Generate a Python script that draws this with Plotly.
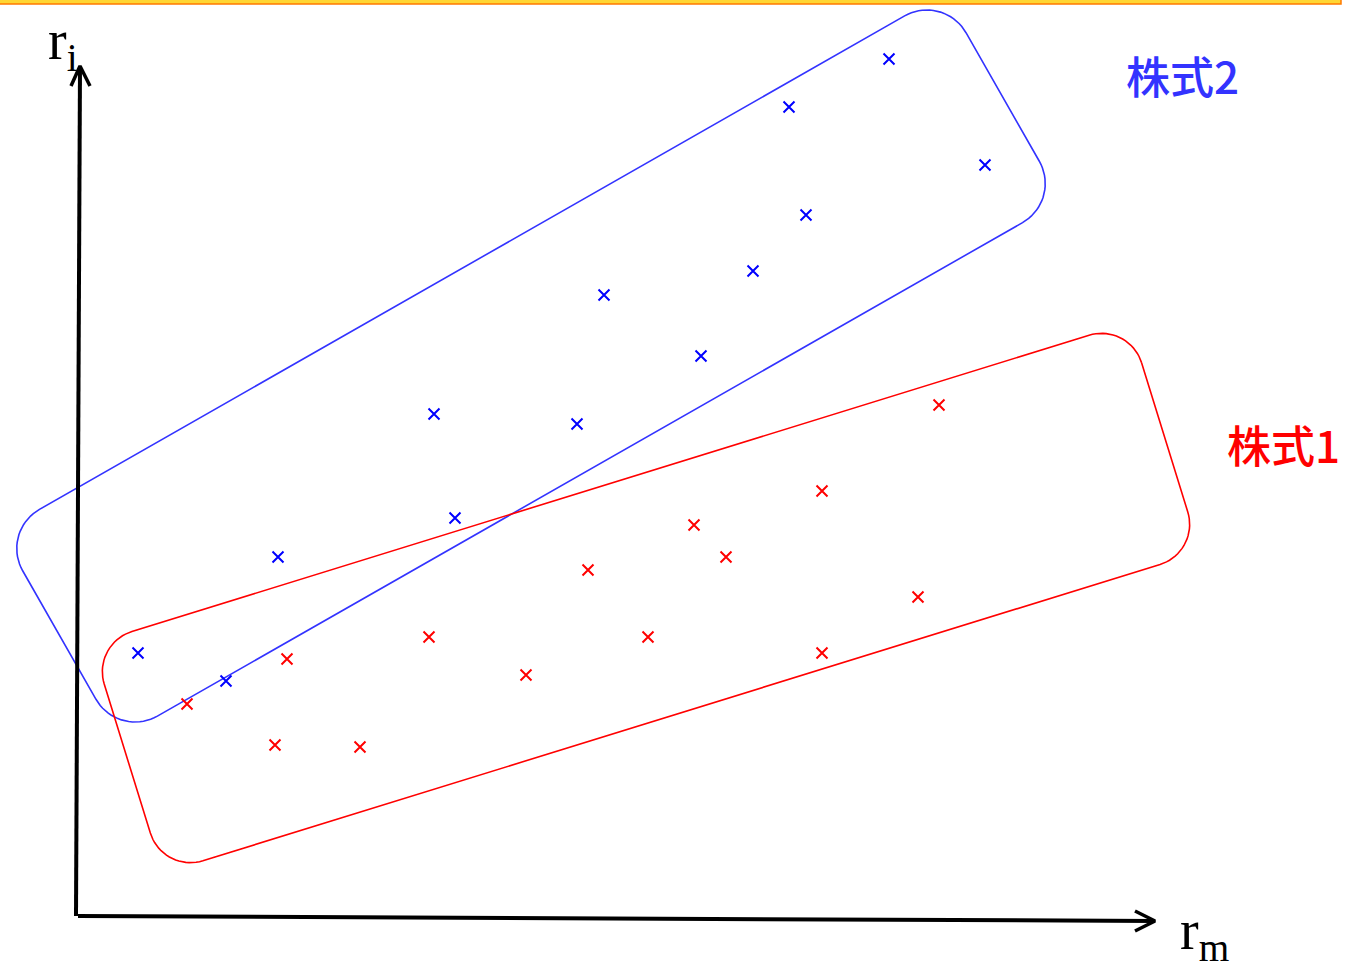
import numpy as np
import plotly.graph_objects as go

# stock 2 (blue) returns: market return rm vs stock return ri
stock2_rm = [811, 711, 907, 728, 675, 526, 623, 356, 499, 377, 200, 60, 148]
stock2_ri = [857, 809, 751, 701, 645, 621, 560, 502, 492, 398, 359, 263, 235]

# stock 1 (red)
stock1_rm = [861, 744, 616, 648, 510, 840, 351, 570, 209, 744, 448, 109, 197, 282]
stock1_ri = [511, 425, 391, 359, 346, 319, 279, 279, 257, 263, 241, 212, 171, 169]

labels = ["株式1", "株式2"]

BLUE = "#0000FF"
RED = "#FF0000"
BOX_BLUE = "#3333FF"


def rounded_box(cx, cy, length, width, angle_deg, r, n=20):
    """outline of a rotated rounded rectangle"""
    hl, hw = length / 2 - r, width / 2 - r
    pts = []
    corners = [(hl, hw, 0), (-hl, hw, 90), (-hl, -hw, 180), (hl, -hw, 270)]
    for (ox, oy, a0) in corners:
        t = np.radians(np.linspace(a0, a0 + 90, n))
        pts += list(zip(ox + r * np.cos(t), oy + r * np.sin(t)))
    pts.append(pts[0])
    pts = np.array(pts)
    a = np.radians(angle_deg)
    x = cx + pts[:, 0] * np.cos(a) - pts[:, 1] * np.sin(a)
    y = cy + pts[:, 0] * np.sin(a) + pts[:, 1] * np.cos(a)
    return x, y


fig = go.Figure()

# grouping boxes
bx, by = rounded_box(453, 550, 1086, 238, 29.7, 45)
fig.add_trace(go.Scatter(x=bx, y=by, mode="lines",
                         line=dict(color=BOX_BLUE, width=1.6), hoverinfo="skip"))
rx, ry = rounded_box(568, 318, 1086, 240, 17.2, 42)
fig.add_trace(go.Scatter(x=rx, y=ry, mode="lines",
                         line=dict(color=RED, width=1.6), hoverinfo="skip"))

# points
fig.add_trace(go.Scatter(x=stock2_rm, y=stock2_ri, mode="markers",
                         marker=dict(symbol="x-thin", size=11,
                                     line=dict(color=BLUE, width=2))))
fig.add_trace(go.Scatter(x=stock1_rm, y=stock1_ri, mode="markers",
                         marker=dict(symbol="x-thin", size=11,
                                     line=dict(color=RED, width=2))))

# axes drawn as arrows
fig.add_trace(go.Scatter(x=[-2, 2], y=[0, 850], mode="lines",
                         line=dict(color="black", width=4), hoverinfo="skip"))
fig.add_trace(go.Scatter(x=[-7, 2, 12], y=[830, 850, 830], mode="lines",
                         line=dict(color="black", width=3.5), hoverinfo="skip"))
fig.add_trace(go.Scatter(x=[0, 1077], y=[0, -5], mode="lines",
                         line=dict(color="black", width=4), hoverinfo="skip"))
fig.add_trace(go.Scatter(x=[1057, 1077, 1057], y=[5, -5, -15], mode="lines",
                         line=dict(color="black", width=3.5), hoverinfo="skip"))

serif = "Liberation Serif, Times New Roman, serif"
cjk = "Noto Sans CJK JP, sans-serif"
fig.add_annotation(x=-32, y=872, text="r<sub>i</sub>", showarrow=False,
                   xanchor="left", yanchor="middle",
                   font=dict(family=serif, size=56, color="black"))
fig.add_annotation(x=1100, y=-18, text="r<sub>m</sub>", showarrow=False,
                   xanchor="left", yanchor="middle",
                   font=dict(family=serif, size=56, color="black"))
fig.add_annotation(x=1046, y=841, text=labels[1], showarrow=False,
                   xanchor="left", yanchor="middle",
                   font=dict(family=cjk, size=44, color=BOX_BLUE, weight=500))
fig.add_annotation(x=1147, y=472, text=labels[0], showarrow=False,
                   xanchor="left", yanchor="middle",
                   font=dict(family=cjk, size=44, color=RED, weight=500))

# slide frame edge at top
fig.add_shape(type="rect", xref="paper", yref="paper",
              x0=-0.01, x1=1341 / 1349, y0=1 - 4 / 963, y1=1.01,
              fillcolor="#FFD633", line=dict(color="#FF7A00", width=1.5))

fig.update_layout(
    width=1349, height=963,
    margin=dict(l=0, r=0, t=0, b=0),
    paper_bgcolor="white", plot_bgcolor="white",
    showlegend=False,
    xaxis=dict(range=[-78, 1271], visible=False, fixedrange=True),
    yaxis=dict(range=[-47, 916], visible=False, fixedrange=True),
)

fig.write_html("out.html", config={"displayModeBar": False},
               post_script="document.body.style.margin='0';"
                           "document.body.style.overflow='hidden';")
